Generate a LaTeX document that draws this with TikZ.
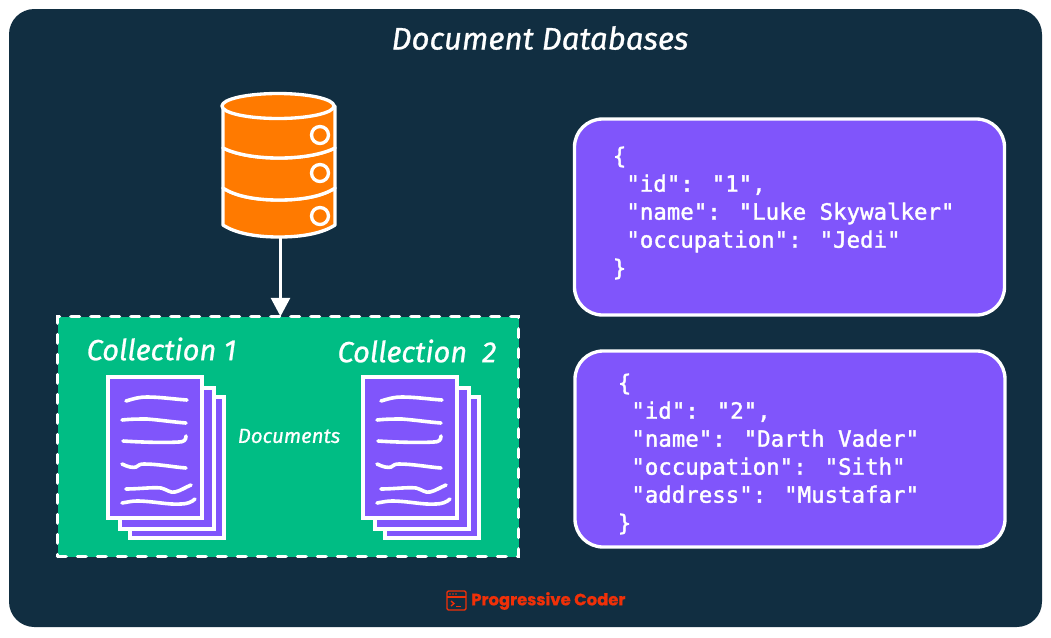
\documentclass[tikz,border=0pt]{standalone}
\usepackage{fontspec}
\usetikzlibrary{arrows.meta}
\newfontfamily\codefont[FakeBold=1.6]{DejaVu Sans Mono}
\newfontfamily\handfont[FakeBold=0.8]{Fira Sans Italic}
\newfontfamily\logofont[FakeBold=0.8]{Poppins Bold}
\definecolor{bgnavy}{HTML}{112E41}
\definecolor{vio}{HTML}{8055FB}
\definecolor{grn}{HTML}{00BD84}
\definecolor{org}{HTML}{FF7A00}
\definecolor{logored}{HTML}{F03008}
\newcommand{\px}{0.75pt}
\tikzset{
  x=0.75pt,y=-0.75pt,
  wline/.style={draw=white,line width=2.5pt},
  dbpart/.style={wline,fill=org,line join=round},
  page/.style={wline,fill=vio,line join=miter},
  squig/.style={draw=white,line width=2.7pt,line cap=round},
  codebox/.style={wline,fill=vio,rounded corners=21pt,minimum width=430*\px,minimum height=196*\px,outer sep=0pt},
  codetext/.style={text=white,anchor=west,align=left,inner sep=0pt,font=\codefont\fontsize{16.8}{21}\selectfont},
  hand/.style={text=white,inner sep=0pt},
  docstack/.pic={
    \draw[page] (22,20) rectangle (116,161);
    \draw[page] (12,11) rectangle (106,152);
    \draw[page] (0,0) rectangle (94,141);
    \draw[squig] (18,24) .. controls (28,21) and (32,20) .. (39,20) .. controls (52,20) and (65,22) .. (79,23);
    \draw[squig] (14,43) .. controls (24,42) and (30,42) .. (39,42) .. controls (52,43) and (65,45) .. (78,46);
    \draw[squig] (15,64) .. controls (30,65) and (55,66) .. (71,65) .. controls (76,65) and (78,63) .. (78,59);
    \draw[squig] (14,87) .. controls (20,90) and (25,91) .. (28,90) .. controls (31,88) and (32,87) .. (36,87) .. controls (50,87) and (65,90) .. (78,91);
    \draw[squig] (18,112) .. controls (30,112) and (45,110) .. (53,111) .. controls (60,113) and (62,116) .. (67,115) .. controls (72,114) and (78,110) .. (83,108);
    \draw[squig] (14,126) .. controls (20,125) and (24,124) .. (29,124) .. controls (45,124) and (60,128) .. (73,127) .. controls (79,127) and (84,125) .. (87,122);
  }
}
\begin{document}
\begin{tikzpicture}
\useasboundingbox (0,0) rectangle (1051,637);
\fill[white] (0,0) rectangle (1051,637);
\fill[bgnavy,rounded corners=19pt] (9,9) rectangle (1042,627);

\node[hand,font=\handfont\fontsize{23.4}{28}\selectfont] (title) at (540,38) {Document Databases};

% database
\draw[dbpart] (223,188) -- (223,225) .. controls (235,233) and (255,237) .. (279,237) .. controls (303,237) and (323,233) .. (335,225) -- (335,188) .. controls (323,196) and (303,200) .. (279,200) .. controls (255,200) and (235,196) .. (223,188) -- cycle;
\draw[dbpart] (223,148) -- (223,188) .. controls (235,196) and (255,200) .. (279,200) .. controls (303,200) and (323,196) .. (335,188) -- (335,148) .. controls (323,154) and (303,158) .. (279,158) .. controls (255,158) and (235,154) .. (223,148) -- cycle;
\draw[dbpart] (223,106) -- (223,148) .. controls (235,154) and (255,158) .. (279,158) .. controls (303,158) and (323,154) .. (335,148) -- (335,106) -- cycle;
\draw[dbpart] (278,106) ellipse [x radius=56,y radius=12.5];
\foreach \n/\cy in {a/135,b/173,c/216}{
  \draw[wline,fill=org] (320,\cy) circle [radius=8.5];
}
\coordinate (dbbottom) at (280.5,238);

% collection box
\node[fill=grn,draw=white,line width=2.6pt,dash pattern=on 6.5pt off 8.5pt,line cap=round,minimum width=461*\px,minimum height=240*\px,outer sep=0pt,inner sep=0pt] (coll) at (288,436.5) {};
\draw[draw=white,line width=2.8pt,-{Stealth[length=14pt,width=14pt,inset=0pt]}] (dbbottom) -- (dbbottom |- coll.north);

\node[hand,font=\handfont\fontsize{21.8}{26}\selectfont] (c1) at (161.5,349) {Collection 1};
\node[hand,font=\handfont\fontsize{21.8}{26}\selectfont] (c2) at (417,351) {Collection\ \ 2};
\node[hand,font=\handfont\fontsize{15.3}{18}\selectfont] (docs) at (289,436) {Documents};

\pic at (108,377) {docstack};
\pic at (363,377) {docstack};

% JSON boxes
\node[codebox] (b1) at (789.5,217) {};
\node[codebox] (b2) at (790,449) {};
\node[codetext] (t1) at (612.5,213) {\{\\\hspace*{10.2pt}"id": "1",\\\hspace*{10.2pt}"name": "Luke Skywalker"\\\hspace*{10.2pt}"occupation": "Jedi"\\\}};
\node[codetext] (t2) at (617.5,454) {\{\\\hspace*{10.2pt}"id": "2",\\\hspace*{10.2pt}"name": "Darth Vader"\\\hspace*{10.2pt}"occupation": "Sith"\\\hspace*{10.2pt}"address": "Mustafar"\\\}};

% logo
\draw[logored,line width=1pt,rounded corners=1pt] (447,591) rectangle (466,610);
\draw[logored,line width=1pt] (447,597) -- (466,597);
\foreach \dx in {450,453,456}{\fill[logored] (\dx,594) circle [radius=0.8];}
\draw[logored,line width=1pt] (451,601) -- (454,603.5) -- (451,606);
\draw[logored,line width=1pt] (456,606.5) -- (461,606.5);
\node[text=logored,inner sep=0pt,anchor=west,font=\logofont\fontsize{12.3}{15}\selectfont] (logo) at (471,601) {Progressive Coder};
\end{tikzpicture}
\end{document}
